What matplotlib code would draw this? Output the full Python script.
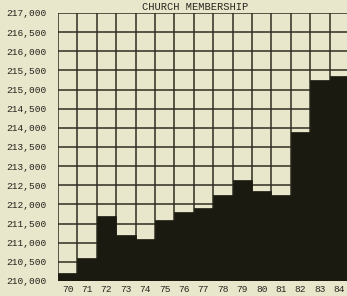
import matplotlib.pyplot as plt

years = ["70", "71", "72", "73", "74", "75", "76", "77",
         "78", "79", "80", "81", "82", "83", "84"]

members = [210200, 210600, 211700, 211200, 211100, 211600, 211800, 211900,
           212250, 212650, 212350, 212250, 213900, 215250, 215350]

y_ticks = list(range(210000, 217001, 500))

paper = "#e8e6cb"
ink = "#1b1a10"
font = "Liberation Mono"

fig = plt.figure(figsize=(3.47, 2.96), dpi=100, facecolor=paper)
ax = fig.add_axes([58 / 347, 15 / 296, 291 / 347, 268 / 296])
ax.set_facecolor(paper)

x = list(range(len(years)))

# grid of cells behind the bars
for v in y_ticks:
    ax.axhline(v, color="#2e2d22", linewidth=1.1, zorder=1)
for i in range(len(years) + 1):
    ax.axvline(i, color="#2e2d22", linewidth=1.1, zorder=1)

base = y_ticks[0]
ax.bar(
    x,
    [m - base for m in members],
    bottom=base,
    width=1.0,
    align="edge",
    color=ink,
    edgecolor=ink,
    linewidth=0.5,
    zorder=2
)

ax.set_xlim(0, len(years))
ax.set_ylim(y_ticks[0], y_ticks[-1])

ax.set_xticks([i + 0.5 for i in x])
ax.set_xticklabels(years, fontfamily=font, fontsize=6.8, color="#26251d")
ax.set_yticks(y_ticks)
ax.set_yticklabels(["{:,}".format(v) for v in y_ticks],
                   fontfamily=font, fontsize=6.8, color="#26251d")
ax.tick_params(length=0, pad=3)
ax.tick_params(axis="y", pad=8)

for s in ax.spines.values():
    s.set_visible(False)

fig.text(195 / 347, 1 - 9.5 / 296, "CHURCH MEMBERSHIP", ha="center",
         va="baseline", fontfamily=font, fontsize=7.5, color="#26251d")

plt.savefig("out.png", dpi=100, facecolor=paper)
